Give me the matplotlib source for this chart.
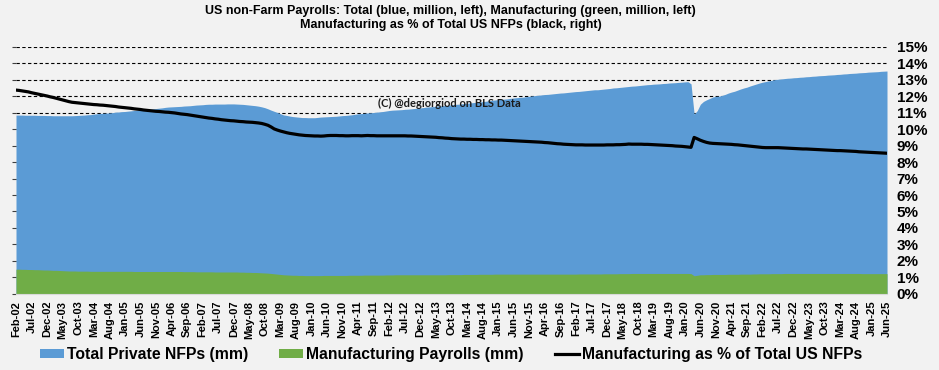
import pandas as pd
import matplotlib
matplotlib.use("Agg")
import matplotlib.pyplot as plt
from matplotlib.patches import Patch
from matplotlib.lines import Line2D

plt.rcParams['font.family'] = ['Liberation Sans', 'DejaVu Sans']
plt.rcParams['font.weight'] = 'bold'

# monthly, Feb-02 .. Jun-25
start_month = "2002-02-01"
end_month = "2025-06-01"

# Total private NFPs (million, left axis)
total_private = [
    108.6, 108.6, 108.6, 108.5, 108.5, 108.5, 108.5, 108.4, 108.4, 108.4, 108.3,
    108.3, 108.2, 108.2, 108.2, 108.2, 108.2, 108.2, 108.2, 108.3, 108.4, 108.5, 108.6,
    108.8, 108.9, 109.2, 109.4, 109.6, 109.7, 109.8, 109.9, 110.1, 110.4, 110.5, 110.7,
    110.8, 111.0, 111.2, 111.4, 111.5, 111.7, 111.9, 112.1, 112.2, 112.4, 112.6, 112.8,
    113.0, 113.3, 113.5, 113.6, 113.7, 113.8, 113.9, 114.1, 114.2, 114.3, 114.5, 114.7,
    114.8, 114.9, 115.1, 115.2, 115.2, 115.3, 115.3, 115.3, 115.3, 115.4, 115.4, 115.4,
    115.3, 115.2, 115.1, 114.9, 114.7, 114.5, 114.3, 114.0, 113.6, 113.1, 112.4, 111.6,
    110.9, 110.2, 109.4, 108.7, 108.4, 108.0, 107.7, 107.5, 107.3, 107.1, 107.1, 107.0,
    107.0, 107.0, 107.2, 107.4, 107.5, 107.6, 107.7, 107.8, 107.9, 108.1, 108.3, 108.4,
    108.6, 108.8, 109.1, 109.4, 109.5, 109.7, 109.9, 110.0, 110.2, 110.4, 110.6, 110.8,
    111.1, 111.4, 111.6, 111.7, 111.8, 111.9, 112.1, 112.2, 112.4, 112.6, 112.8, 113.0,
    113.2, 113.5, 113.6, 113.8, 114.0, 114.2, 114.3, 114.5, 114.6, 114.9, 115.1, 115.2,
    115.4, 115.6, 115.8, 116.0, 116.2, 116.4, 116.6, 116.8, 117.0, 117.3, 117.6, 117.8,
    118.0, 118.2, 118.3, 118.5, 118.8, 119.0, 119.2, 119.4, 119.5, 119.8, 120.0, 120.3,
    120.5, 120.7, 120.9, 121.1, 121.2, 121.4, 121.6, 121.8, 122.0, 122.1, 122.3, 122.5,
    122.7, 122.9, 123.0, 123.2, 123.4, 123.6, 123.8, 124.0, 124.0, 124.2, 124.4, 124.6,
    124.8, 125.1, 125.2, 125.4, 125.6, 125.8, 126.0, 126.2, 126.3, 126.5, 126.7, 126.9,
    127.1, 127.2, 127.4, 127.5, 127.6, 127.8, 127.9, 128.1, 128.2, 128.3, 128.5, 128.6,
    128.8, 128.9, 127.6, 109.2, 111.3, 115.2, 116.9, 117.9, 118.7, 119.6, 120.0, 120.1,
    120.6, 121.2, 122.0, 122.6, 123.1, 123.8, 124.5, 125.1, 125.6, 126.3, 126.9, 127.5,
    128.1, 128.6, 129.0, 129.4, 129.8, 130.2, 130.4, 130.6, 130.8, 131.0, 131.1, 131.3,
    131.4, 131.6, 131.7, 131.9, 132.0, 132.2, 132.3, 132.5, 132.6, 132.7, 132.9, 133.0,
    133.1, 133.3, 133.4, 133.6, 133.7, 133.9, 134.0, 134.1, 134.3, 134.4, 134.5, 134.7,
    134.8, 134.9, 135.0, 135.2, 135.3, 135.4,
]

# Manufacturing payrolls (million, left axis)
manufacturing = [
    14.9, 14.9, 14.8, 14.8, 14.7, 14.7, 14.6, 14.6, 14.5, 14.4, 14.4,
    14.3, 14.2, 14.2, 14.1, 14.0, 13.9, 13.8, 13.8, 13.8, 13.7, 13.7, 13.7,
    13.7, 13.6, 13.6, 13.6, 13.6, 13.6, 13.6, 13.6, 13.6, 13.6, 13.6, 13.6,
    13.6, 13.6, 13.6, 13.5, 13.5, 13.5, 13.5, 13.5, 13.5, 13.5, 13.5, 13.5,
    13.5, 13.5, 13.5, 13.5, 13.5, 13.5, 13.5, 13.4, 13.4, 13.4, 13.4, 13.3,
    13.3, 13.3, 13.3, 13.3, 13.3, 13.2, 13.2, 13.2, 13.2, 13.2, 13.2, 13.2,
    13.2, 13.1, 13.1, 13.0, 13.0, 12.9, 12.9, 12.8, 12.7, 12.6, 12.5, 12.3,
    12.1, 11.9, 11.7, 11.5, 11.4, 11.3, 11.2, 11.2, 11.1, 11.1, 11.0, 11.0,
    11.0, 11.0, 11.0, 11.0, 11.1, 11.1, 11.1, 11.1, 11.1, 11.1, 11.1, 11.1,
    11.2, 11.2, 11.2, 11.2, 11.2, 11.3, 11.3, 11.3, 11.3, 11.3, 11.3, 11.3,
    11.4, 11.4, 11.4, 11.5, 11.5, 11.5, 11.5, 11.5, 11.5, 11.5, 11.5, 11.5,
    11.5, 11.5, 11.5, 11.5, 11.5, 11.5, 11.5, 11.5, 11.6, 11.6, 11.6, 11.6,
    11.6, 11.7, 11.7, 11.7, 11.7, 11.7, 11.8, 11.8, 11.8, 11.8, 11.8, 11.9,
    11.9, 11.9, 11.9, 11.9, 11.9, 11.9, 11.9, 11.9, 11.9, 11.9, 11.9, 11.9,
    11.9, 11.9, 11.9, 11.9, 11.9, 11.9, 11.9, 11.9, 11.9, 11.9, 11.9, 11.9,
    11.9, 11.9, 12.0, 12.0, 12.0, 12.0, 12.0, 12.0, 12.0, 12.0, 12.1, 12.1,
    12.1, 12.1, 12.1, 12.2, 12.2, 12.2, 12.2, 12.3, 12.3, 12.3, 12.3, 12.3,
    12.3, 12.3, 12.3, 12.3, 12.3, 12.3, 12.3, 12.3, 12.3, 12.3, 12.3, 12.3,
    12.3, 12.3, 12.2, 10.9, 11.2, 11.5, 11.5, 11.6, 11.6, 11.7, 11.7, 11.7,
    11.7, 11.7, 11.8, 11.8, 11.8, 11.8, 11.9, 11.9, 11.9, 11.9, 12.0, 12.0,
    12.1, 12.1, 12.1, 12.1, 12.2, 12.2, 12.2, 12.2, 12.3, 12.3, 12.3, 12.3,
    12.3, 12.3, 12.3, 12.3, 12.3, 12.3, 12.3, 12.3, 12.3, 12.3, 12.3, 12.3,
    12.3, 12.3, 12.3, 12.3, 12.3, 12.3, 12.3, 12.3, 12.3, 12.2, 12.2, 12.2,
    12.2, 12.2, 12.2, 12.2, 12.2, 12.2,
]

# Manufacturing as % of total US NFPs (right axis)
manuf_share = [
    12.38, 12.36, 12.33, 12.30, 12.27, 12.22, 12.18, 12.14, 12.10, 12.06, 12.02,
    11.97, 11.93, 11.88, 11.83, 11.78, 11.73, 11.68, 11.64, 11.62, 11.60, 11.58, 11.56,
    11.54, 11.52, 11.50, 11.49, 11.47, 11.46, 11.44, 11.42, 11.40, 11.38, 11.35, 11.33,
    11.31, 11.29, 11.27, 11.24, 11.22, 11.20, 11.17, 11.15, 11.13, 11.11, 11.09, 11.08,
    11.06, 11.04, 11.03, 11.01, 10.99, 10.96, 10.93, 10.91, 10.89, 10.86, 10.83, 10.80,
    10.77, 10.74, 10.71, 10.68, 10.66, 10.63, 10.61, 10.58, 10.56, 10.54, 10.52, 10.51,
    10.49, 10.47, 10.46, 10.44, 10.43, 10.42, 10.40, 10.38, 10.35, 10.30, 10.24, 10.14,
    10.02, 9.95, 9.89, 9.84, 9.79, 9.75, 9.72, 9.69, 9.66, 9.64, 9.62, 9.61,
    9.60, 9.59, 9.59, 9.58, 9.59, 9.61, 9.62, 9.62, 9.62, 9.61, 9.61, 9.60,
    9.60, 9.61, 9.61, 9.61, 9.60, 9.61, 9.62, 9.61, 9.61, 9.60, 9.60, 9.60,
    9.60, 9.60, 9.60, 9.60, 9.60, 9.60, 9.60, 9.59, 9.59, 9.58, 9.57, 9.56,
    9.55, 9.54, 9.53, 9.52, 9.51, 9.49, 9.48, 9.46, 9.45, 9.43, 9.42, 9.41,
    9.40, 9.40, 9.39, 9.39, 9.38, 9.38, 9.37, 9.37, 9.36, 9.36, 9.35, 9.35,
    9.34, 9.34, 9.33, 9.32, 9.31, 9.30, 9.29, 9.28, 9.27, 9.26, 9.25, 9.24,
    9.23, 9.22, 9.21, 9.19, 9.18, 9.16, 9.14, 9.12, 9.11, 9.09, 9.08, 9.07,
    9.06, 9.05, 9.05, 9.05, 9.04, 9.04, 9.04, 9.04, 9.04, 9.04, 9.04, 9.05,
    9.05, 9.05, 9.06, 9.06, 9.07, 9.08, 9.10, 9.09, 9.09, 9.09, 9.09, 9.08,
    9.08, 9.07, 9.06, 9.05, 9.04, 9.03, 9.02, 9.01, 9.00, 8.98, 8.97, 8.96,
    8.94, 8.92, 8.90, 9.50, 9.42, 9.33, 9.26, 9.20, 9.16, 9.14, 9.13, 9.12,
    9.11, 9.10, 9.09, 9.08, 9.06, 9.05, 9.03, 9.01, 8.99, 8.97, 8.95, 8.93,
    8.91, 8.89, 8.88, 8.88, 8.88, 8.88, 8.88, 8.87, 8.86, 8.85, 8.84, 8.83,
    8.82, 8.81, 8.80, 8.80, 8.79, 8.78, 8.77, 8.76, 8.75, 8.74, 8.73, 8.72,
    8.71, 8.70, 8.70, 8.69, 8.68, 8.67, 8.66, 8.65, 8.63, 8.62, 8.61, 8.60,
    8.59, 8.58, 8.57, 8.56, 8.55, 8.54,
]

dates = pd.date_range(start_month, end_month, freq="MS")
x = list(range(len(dates)))
labels = [d.strftime("%b-%y") for d in dates]

BG = "#f2f2f2"
BLUE = "#5b9bd5"
GREEN = "#70ad47"

fig = plt.figure(figsize=(9.39, 3.70), dpi=100, facecolor=BG)
ax = fig.add_axes([16 / 939, 1 - 293.7 / 370, (887 - 16) / 939, (293.7 - 47) / 370])
ax.set_facecolor(BG)

ax.fill_between(x, 0, total_private, color=BLUE, linewidth=0, zorder=1)
ax.fill_between(x, 0, manufacturing, color=GREEN, linewidth=0, zorder=2)

ax.set_xlim(0, len(x) - 1)
ax.set_ylim(0, 150)
ax.set_yticks(range(0, 151, 10))
ax.set_axisbelow(True)
ax.grid(axis="y", color="black", linestyle=(0, (3, 2.2)), linewidth=0.8)
ax.tick_params(axis="y", length=3, color="#404040", labelleft=False)

ax.set_xticks(x[::5])
ax.set_xticklabels(labels[::5], rotation=90, fontsize=8, fontweight="bold")
ax.tick_params(axis="x", length=0, pad=5)

for s in ["top", "right", "left"]:
    ax.spines[s].set_visible(False)
ax.spines["bottom"].set_color("#d9d9d9")

ax2 = ax.twinx()
ax2.plot(x, manuf_share, color="black", linewidth=2.3, zorder=3)
ax2.set_ylim(0, 15)
ax2.set_yticks(range(0, 16))
ax2.set_yticklabels([f"{v}%" for v in range(0, 16)], fontsize=11, fontweight="bold")
ax2.tick_params(axis="y", length=0, pad=7)
for s in ["top", "right", "left", "bottom"]:
    ax2.spines[s].set_visible(False)

fig.text(0.48, 1 - 11 / 370, "US non-Farm Payrolls: Total (blue, million, left), Manufacturing (green, million, left)",
         ha="center", va="center", fontsize=9, fontweight="bold")
fig.text(0.48, 1 - 25 / 370, "Manufacturing as % of Total US NFPs (black, right)",
         ha="center", va="center", fontsize=9, fontweight="bold")

fig.text(449 / 939, 1 - 103 / 370, "(C) @degiorgiod on BLS Data", ha="center", va="center",
         fontsize=8, fontweight="bold", family="Lato", color="#1a1a1a")

handles = [
    Patch(facecolor=BLUE, edgecolor="none"),
    Patch(facecolor=GREEN, edgecolor="none"),
    Line2D([], [], color="black", linewidth=2.3),
]
names = ["Total Private NFPs (mm)", "Manufacturing Payrolls (mm)", "Manufacturing as % of Total US NFPs"]
fig.legend(handles, names, loc="center", bbox_to_anchor=(451 / 939, 1 - 355 / 370), ncol=3, frameon=False,
           prop={"size": 11.3, "weight": "bold"}, handlelength=1.5, handleheight=0.5,
           handletextpad=0.2, columnspacing=2.0)

fig.savefig("out.png", dpi=100, facecolor=BG)
